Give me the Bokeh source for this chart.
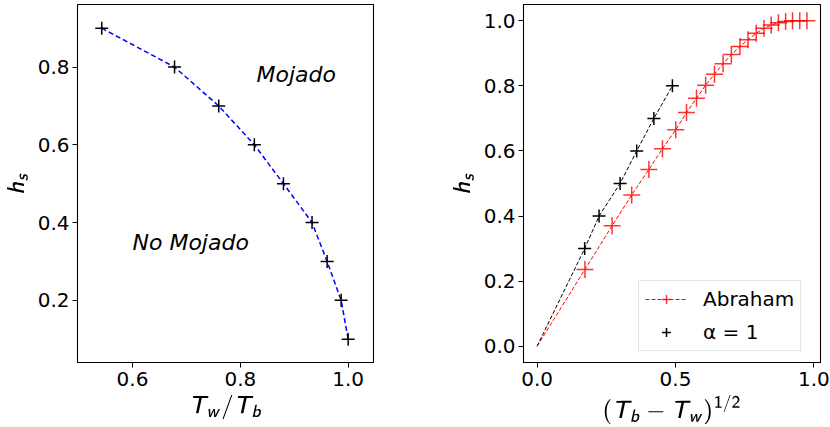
from bokeh.plotting import figure
from bokeh.layouts import row
from bokeh.models import (Range1d, Label, Legend, LegendItem, FixedTicker,
                          NumeralTickFormatter)
from bokeh.embed import file_html
from bokeh.resources import INLINE

# Wetting boundary: wall/bulk temperature ratio vs. s-site parameter
ratio_tw_tb = [0.543, 0.678, 0.760, 0.826, 0.880, 0.933, 0.961, 0.987, 1.0]
hs_boundary = [0.9, 0.8, 0.7, 0.6, 0.5, 0.4, 0.3, 0.2, 0.1]

# Abraham's result vs. sqrt of temperature difference
abraham_x = [0.173, 0.271, 0.342, 0.404, 0.453, 0.501, 0.540, 0.576, 0.609,
             0.641, 0.672, 0.702, 0.733, 0.762, 0.792, 0.820, 0.846, 0.872,
             0.898, 0.923, 0.949, 0.975]
abraham_hs = [0.236, 0.370, 0.465, 0.543, 0.607, 0.665, 0.718, 0.762, 0.802,
              0.836, 0.868, 0.896, 0.921, 0.942, 0.962, 0.977, 0.987, 0.994,
              0.998, 1.0, 1.0, 1.0]

# Simulation points for alpha = 1
alpha1_x = [0.172, 0.224, 0.300, 0.360, 0.422, 0.489]
alpha1_hs = [0.3, 0.4, 0.5, 0.6, 0.7, 0.8]

origin = [0.0]

FONT = "DejaVu Sans"
TICK_PX = "20px"
LABEL_PX = "21px"


def style(p):
    p.outline_line_color = "black"
    p.outline_line_width = 1.1
    p.grid.visible = False
    for ax in (p.xaxis, p.yaxis):
        ax.axis_line_color = "black"
        ax.major_tick_line_color = "black"
        ax.major_tick_in = 0
        ax.major_tick_out = 5
        ax.minor_tick_line_color = None
        ax.major_label_text_font = FONT
        ax.major_label_text_font_size = TICK_PX
        ax.major_label_text_color = "black"
        ax.axis_label_text_font_size = LABEL_PX
        ax.axis_label_text_font_style = "normal"
        ax.axis_label_text_color = "black"
        ax.formatter = NumeralTickFormatter(format="0.0")
    p.xaxis.major_label_standoff = 4
    p.yaxis.major_label_standoff = 3
    p.xaxis.axis_label_standoff = 6
    p.background_fill_color = "white"
    p.border_fill_color = "white"


# ---- left panel ----
p1 = figure(width=415, height=427, output_backend="svg", toolbar_location=None,
            x_range=Range1d(0.498, 1.047), y_range=Range1d(0.04, 0.961),
            min_border_left=77, min_border_right=42, min_border_top=4,
            min_border_bottom=60)
style(p1)
p1.xaxis.ticker = FixedTicker(ticks=[0.6, 0.8, 1.0])
p1.yaxis.ticker = FixedTicker(ticks=[0.2, 0.4, 0.6, 0.8])
p1.xaxis.axis_label = r"$$\mathsfit{T}_{\mathsfit{w}}/\mathsfit{T}_{\mathsfit{b}}$$"
p1.yaxis.axis_label = r"$$\mathsfit{h}_{\mathsfit{s}}$$"

p1.line(ratio_tw_tb, hs_boundary, line_color="#0000ff", line_width=1.5,
        line_dash="5 3")
p1.scatter(ratio_tw_tb, hs_boundary, marker="cross", size=13,
           line_color="black", line_width=1.5)

for x, y, t in [(0.83, 0.78, "Mojado"), (0.6, 0.35, "No Mojado")]:
    p1.add_layout(Label(x=x, y=y, text=t, text_font=FONT,
                        text_font_size="22px", text_font_style="italic",
                        text_color="black", text_baseline="alphabetic"))

# ---- right panel ----
p2 = figure(width=415, height=427, output_backend="svg", toolbar_location=None,
            x_range=Range1d(-0.049, 1.024), y_range=Range1d(-0.05, 1.05),
            min_border_left=108, min_border_right=10, min_border_top=4,
            min_border_bottom=60)
style(p2)
p2.xaxis.ticker = FixedTicker(ticks=[0.0, 0.5, 1.0])
p2.yaxis.ticker = FixedTicker(ticks=[0.0, 0.2, 0.4, 0.6, 0.8, 1.0])
p2.xaxis.axis_label = (r"$$(\mathsfit{T}_{\mathsfit{b}} - "
                       r"\mathsfit{T}_{\mathsfit{w}})^{\mathsf{1/2}}$$")
p2.yaxis.axis_label = r"$$\mathsfit{h}_{\mathsfit{s}}$$"

ab_line = p2.line(origin + abraham_x, origin + abraham_hs, line_color="#ff0000",
                  line_width=1, line_dash="4 2")
ab_pts = p2.scatter(abraham_x, abraham_hs, marker="cross", size=17,
                    line_color="#ff0000", line_width=1.5, line_alpha=0.8)
a1_line = p2.line(origin + alpha1_x, origin + alpha1_hs, line_color="black",
                  line_width=1, line_dash="4 2")
a1_pts = p2.scatter(alpha1_x, alpha1_hs, marker="cross", size=13,
                    line_color="black", line_width=1.5)

legend = Legend(items=[LegendItem(label="Abraham", renderers=[ab_line, ab_pts]),
                       LegendItem(label="α = 1", renderers=[a1_pts])],
                location=(115, 11), label_text_font=FONT,
                label_text_color="black",
                label_text_font_size=TICK_PX, glyph_width=42, glyph_height=22,
                label_height=22, label_standoff=16, spacing=9, padding=6,
                margin=0, border_line_color="#cccccc", border_line_width=1,
                background_fill_alpha=0.8)
p2.add_layout(legend, "center")

page = row(p1, p2)
open("out.html", "w").write(file_html(page, INLINE))
